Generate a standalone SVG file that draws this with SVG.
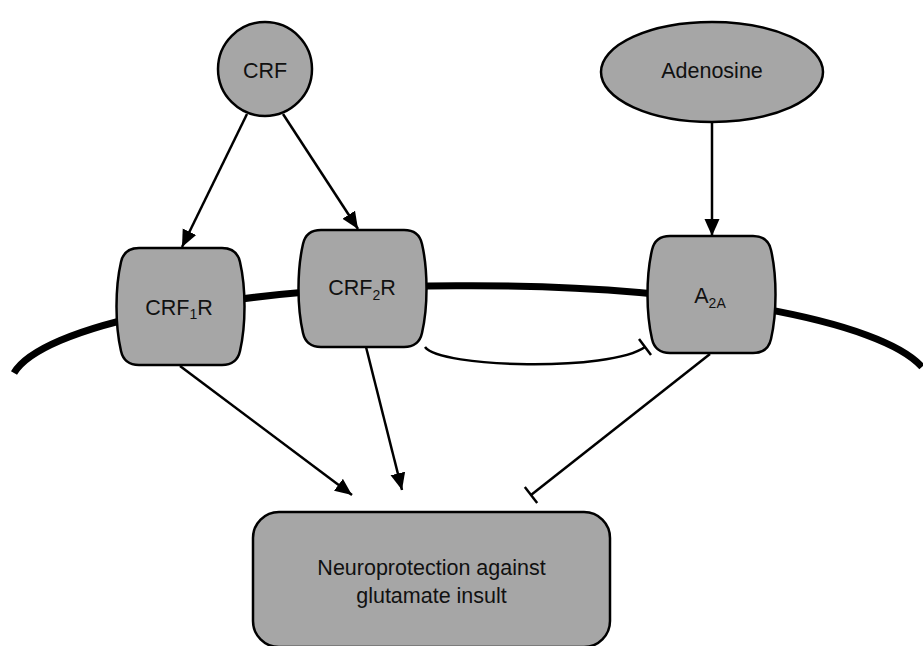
<svg xmlns="http://www.w3.org/2000/svg" width="923" height="646" viewBox="0 0 923 646">
<defs>
<style>
.node{fill:#a6a6a6;stroke:#000;stroke-width:2.5}
.lbl{font-family:"Liberation Sans",Arial,sans-serif;font-size:21.5px;fill:#111;text-anchor:middle}
.con{fill:none;stroke:#000;stroke-width:2.5}
.mem{fill:none;stroke:#000;stroke-width:7}
</style>
<marker id="arr" markerUnits="userSpaceOnUse" markerWidth="18" markerHeight="16" refX="17" refY="7.5" orient="auto" viewBox="0 0 18 15">
<path d="M0,0 L17,7.5 L0,15 Z" fill="#000"/>
</marker>
<path id="rec" d="M22,0 H105 C116,0 121,5 123,14 C129,40 129,77 123,103 C121,112 116,117 105,117 H22 C11,117 6,112 4,103 C-2,77 -2,40 4,14 C6,5 11,0 22,0 Z"/>
</defs>
<path id="membrane" class="mem" d="M14,373 A460,100 0 0 1 922,367"/>
<g id="connectors">
<line class="con" x1="247" y1="114" x2="182" y2="247" marker-end="url(#arr)"/>
<line class="con" x1="283" y1="114" x2="358" y2="229" marker-end="url(#arr)"/>
<line class="con" x1="712" y1="122" x2="712" y2="236" marker-end="url(#arr)"/>
<line class="con" x1="180" y1="366" x2="352" y2="495" marker-end="url(#arr)"/>
<line class="con" x1="366" y1="347" x2="402" y2="490" marker-end="url(#arr)"/>
<line class="con" x1="710" y1="354" x2="531" y2="495"/>
<line class="con" x1="524.8" y1="487.1" x2="537.2" y2="502.9"/>
<path class="con" d="M425,347 C440,368 610,372 645,347"/>
<line class="con" x1="639" y1="339" x2="651" y2="355"/>
</g>
<g id="crf">
<circle class="node" cx="265" cy="69" r="47"/>
<text class="lbl" x="265" y="78">CRF</text>
</g>
<g id="adenosine">
<ellipse class="node" cx="712" cy="72" rx="111" ry="50"/>
<text class="lbl" x="712" y="78">Adenosine</text>
</g>
<g id="crf1r">
<use href="#rec" class="node" transform="translate(117,248)"/>
<text class="lbl" x="179" y="315">CRF<tspan font-size="14" dy="4">1</tspan><tspan dy="-4">R</tspan></text>
</g>
<g id="crf2r">
<use href="#rec" class="node" transform="translate(299,230)"/>
<text class="lbl" x="362" y="295">CRF<tspan font-size="14" dy="5">2</tspan><tspan dy="-5">R</tspan></text>
</g>
<g id="a2a">
<use href="#rec" class="node" transform="translate(648,236)"/>
<text class="lbl" x="710" y="303">A<tspan font-size="14" dy="5">2A</tspan></text>
</g>
<g id="neuroprotection">
<rect class="node" x="253" y="512" width="357" height="135" rx="26"/>
<text class="lbl" x="431.5" y="575">Neuroprotection against</text>
<text class="lbl" x="431.5" y="603">glutamate insult</text>
</g>
</svg>
